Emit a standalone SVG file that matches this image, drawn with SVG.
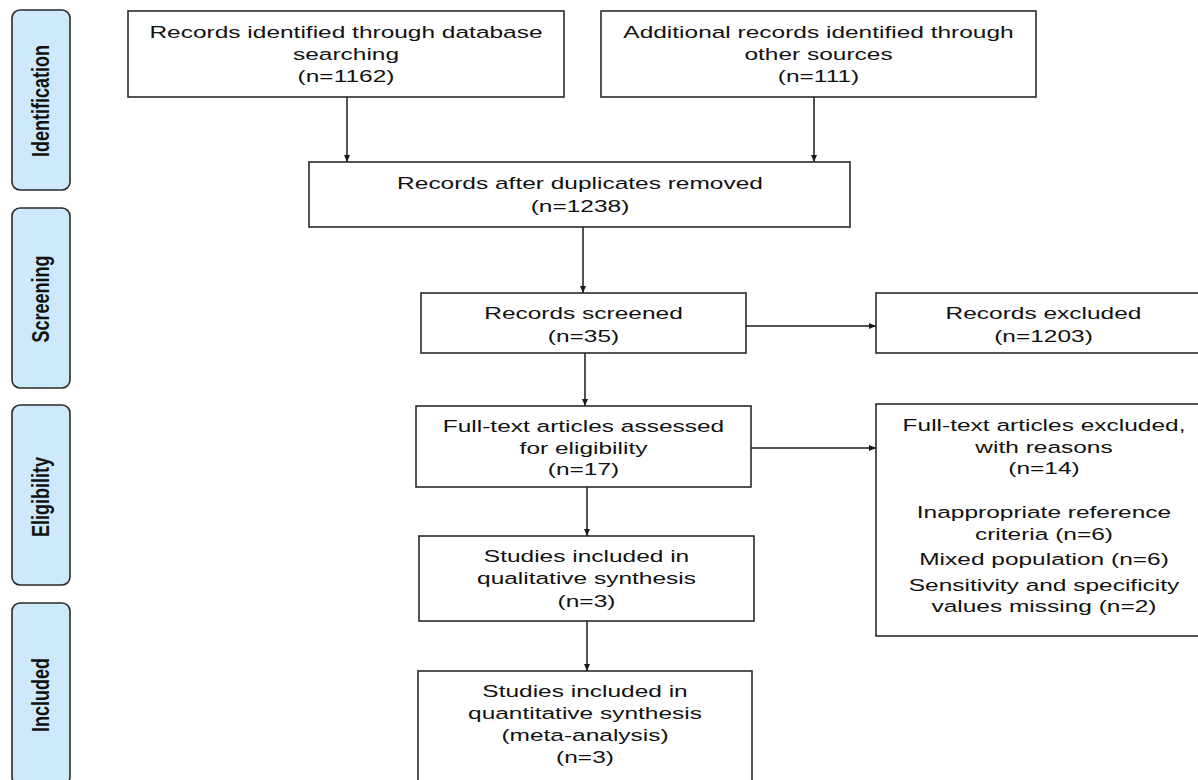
<svg xmlns="http://www.w3.org/2000/svg" width="1198" height="780" viewBox="0 0 1198 780">
<defs>
<style>
.box{fill:#ffffff;stroke:#2a2a2a;stroke-width:1.6}
.side{fill:#cde9fb;stroke:#2a2a2a;stroke-width:1.6}
.t{font-family:"Liberation Sans",Arial,sans-serif;font-size:17px;fill:#111;text-anchor:middle}
.s{font-family:"Liberation Sans Narrow","Liberation Sans",Arial,sans-serif;font-size:18px;font-weight:bold;fill:#111;text-anchor:middle}
.c{stroke:#1a1a1a;stroke-width:1.5;fill:none}
</style>
<marker id="ah" markerUnits="userSpaceOnUse" markerWidth="8" markerHeight="8" refX="7" refY="3" orient="auto">
<path d="M0,0 L7,3 L0,6 z" fill="#1a1a1a"/>
</marker>
</defs>
<rect width="1198" height="780" fill="#ffffff"/>

<g id="phase-identification">
<rect class="side" x="12" y="10" width="58" height="180" rx="8"/>
<text class="s" transform="translate(41,101) scale(1.3,1) rotate(-90)" x="0" y="6.5">Identification</text>
</g>
<g id="phase-screening">
<rect class="side" x="12" y="208" width="58" height="180" rx="8"/>
<text class="s" transform="translate(41,299) scale(1.3,1) rotate(-90)" x="0" y="6.5">Screening</text>
</g>
<g id="phase-eligibility">
<rect class="side" x="12" y="405" width="58" height="180" rx="8"/>
<text class="s" transform="translate(41,497) scale(1.3,1) rotate(-90)" x="0" y="6.5">Eligibility</text>
</g>
<g id="phase-included">
<rect class="side" x="12" y="603" width="58" height="182" rx="8"/>
<text class="s" transform="translate(41,695) scale(1.3,1) rotate(-90)" x="0" y="6.5">Included</text>
</g>

<g id="connectors">
<line class="c" x1="347" y1="97" x2="347" y2="162" marker-end="url(#ah)"/>
<line class="c" x1="814" y1="97" x2="814" y2="162" marker-end="url(#ah)"/>
<line class="c" x1="583" y1="227" x2="583" y2="293" marker-end="url(#ah)"/>
<line class="c" x1="585" y1="353" x2="585" y2="406" marker-end="url(#ah)"/>
<line class="c" x1="746" y1="326" x2="876" y2="326" stroke-width="1.2" marker-end="url(#ah)"/>
<line class="c" x1="751" y1="448" x2="876" y2="448" stroke-width="1.2" marker-end="url(#ah)"/>
<line class="c" x1="587" y1="487" x2="587" y2="536" marker-end="url(#ah)"/>
<line class="c" x1="587" y1="621" x2="587" y2="671" marker-end="url(#ah)"/>
</g>

<g id="db-records">
<rect class="box" x="128" y="11" width="436" height="86"/>
<text class="t" transform="translate(346,0) scale(1.44,1)" y="38">Records identified through database</text>
<text class="t" transform="translate(346,0) scale(1.44,1)" y="60">searching</text>
<text class="t" transform="translate(346,0) scale(1.44,1)" y="82">(n=1162)</text>
</g>
<g id="other-records">
<rect class="box" x="601" y="11" width="435" height="86"/>
<text class="t" transform="translate(818.5,0) scale(1.44,1)" y="38">Additional records identified through</text>
<text class="t" transform="translate(818.5,0) scale(1.44,1)" y="60">other sources</text>
<text class="t" transform="translate(818.5,0) scale(1.44,1)" y="82">(n=111)</text>
</g>
<g id="dedup">
<rect class="box" x="309" y="162" width="541" height="65"/>
<text class="t" transform="translate(580,0) scale(1.44,1)" y="189">Records after duplicates removed</text>
<text class="t" transform="translate(580,0) scale(1.44,1)" y="212">(n=1238)</text>
</g>
<g id="screened">
<rect class="box" x="421" y="293" width="325" height="60"/>
<text class="t" transform="translate(583.5,0) scale(1.44,1)" y="319">Records screened</text>
<text class="t" transform="translate(583.5,0) scale(1.44,1)" y="342">(n=35)</text>
</g>
<g id="excluded">
<rect class="box" x="876" y="293" width="330" height="60"/>
<text class="t" transform="translate(1043.5,0) scale(1.44,1)" y="319">Records excluded</text>
<text class="t" transform="translate(1043.5,0) scale(1.44,1)" y="342">(n=1203)</text>
</g>
<g id="fulltext">
<rect class="box" x="416" y="406" width="335" height="81"/>
<text class="t" transform="translate(583.5,0) scale(1.44,1)" y="432">Full-text articles assessed</text>
<text class="t" transform="translate(583.5,0) scale(1.44,1)" y="454">for eligibility</text>
<text class="t" transform="translate(583.5,0) scale(1.44,1)" y="475">(n=17)</text>
</g>
<g id="fulltext-excluded">
<rect class="box" x="876" y="404" width="330" height="232"/>
<text class="t" transform="translate(1044,0) scale(1.44,1)" y="431">Full-text articles excluded,</text>
<text class="t" transform="translate(1044,0) scale(1.44,1)" y="453">with reasons</text>
<text class="t" transform="translate(1044,0) scale(1.44,1)" y="474">(n=14)</text>
<text class="t" transform="translate(1044,0) scale(1.44,1)" y="518">Inappropriate reference</text>
<text class="t" transform="translate(1044,0) scale(1.44,1)" y="540">criteria (n=6)</text>
<text class="t" transform="translate(1044,0) scale(1.44,1)" y="565">Mixed population (n=6)</text>
<text class="t" transform="translate(1044,0) scale(1.44,1)" y="591">Sensitivity and specificity</text>
<text class="t" transform="translate(1044,0) scale(1.44,1)" y="612">values missing (n=2)</text>
</g>
<g id="qualitative">
<rect class="box" x="419" y="536" width="335" height="85"/>
<text class="t" transform="translate(586.5,0) scale(1.44,1)" y="562">Studies included in</text>
<text class="t" transform="translate(586.5,0) scale(1.44,1)" y="584">qualitative synthesis</text>
<text class="t" transform="translate(586.5,0) scale(1.44,1)" y="607">(n=3)</text>
</g>
<g id="quantitative">
<rect class="box" x="418" y="671" width="334" height="120"/>
<text class="t" transform="translate(585,0) scale(1.44,1)" y="697">Studies included in</text>
<text class="t" transform="translate(585,0) scale(1.44,1)" y="719">quantitative synthesis</text>
<text class="t" transform="translate(585,0) scale(1.44,1)" y="741">(meta-analysis)</text>
<text class="t" transform="translate(585,0) scale(1.44,1)" y="763">(n=3)</text>
</g>
</svg>
